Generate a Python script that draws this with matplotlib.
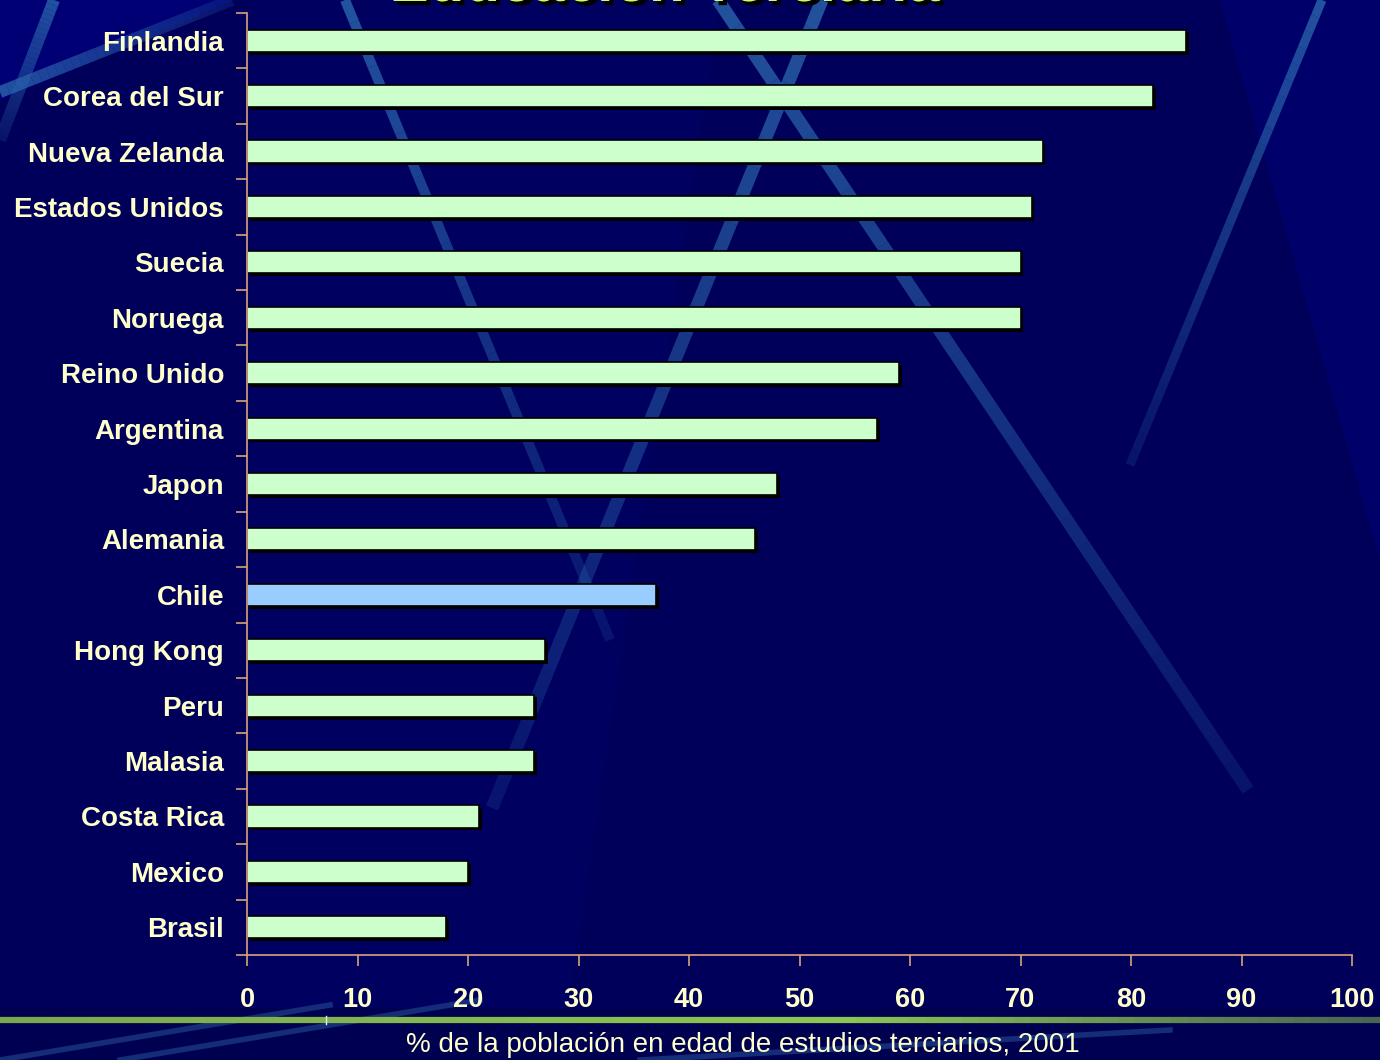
import matplotlib
matplotlib.use("Agg")
import matplotlib.pyplot as plt
import matplotlib.patheffects as pe
from matplotlib.collections import LineCollection
from matplotlib.patches import Polygon
import numpy as np

# data (% of tertiary-age population, 2001)
countries = ["Finlandia", "Corea del Sur", "Nueva Zelanda", "Estados Unidos", "Suecia",
             "Noruega", "Reino Unido", "Argentina", "Japon", "Alemania", "Chile",
             "Hong Kong", "Peru", "Malasia", "Costa Rica", "Mexico", "Brasil"]
values = [85, 82, 72, 71, 70, 70, 59, 57, 48, 46, 37, 27, 26, 26, 21, 20, 18]
highlight = "Chile"
xticks = [0, 10, 20, 30, 40, 50, 60, 70, 80, 90, 100]

W, H = 1380, 1060
BG = "#00006a"
TAN = "#d9a27a"
CREAM = "#ffffcc"
FONT = "Liberation Sans"

fig = plt.figure(figsize=(W / 100, H / 100), dpi=100, facecolor=BG)

# background decoration (pixel coords)
bg = fig.add_axes([0, 0, 1, 1], zorder=0)
bg.set_xlim(0, W)
bg.set_ylim(H, 0)
bg.axis("off")
bg.set_facecolor(BG)
bg.add_patch(Polygon([[0, 0], [1220, 0], [1380, 560], [1380, 1060], [0, 1060]],
                     closed=True, color="#00005a", lw=0))
bg.add_patch(Polygon([[250, 0], [720, 0], [560, 1060], [250, 1060]],
                     closed=True, color="#000060", lw=0))
bg.add_patch(Polygon([[0, 0], [235, 0], [0, 100]], closed=True, color="#000074", lw=0))

# (start, end, width in px)
streaks = [
    ((345, 0), (610, 640), 10),
    ((718, 0), (1248, 790), 13),
    ((822, 0), (492, 808), 13),
    ((1322, 0), (1130, 465), 9),
    ((0, 92), (232, 0), 12),
    ((54, 0), (0, 140), 12),
]
for (x0, y0), (x1, y1), px in streaks:
    n = 30
    xs = np.linspace(x0, x1, n)
    ys = np.linspace(y0, y1, n)
    segs = [[(xs[i], ys[i]), (xs[i + 1], ys[i + 1])] for i in range(n - 1)]
    alphas = np.linspace(0.8, 0.2, n - 1)
    cols = [(0.17, 0.40, 0.68, a) for a in alphas]
    bg.add_collection(LineCollection(segs, colors=cols, linewidths=px * 0.72, capstyle="butt"))

# bottom band and green rule
bg.add_patch(Polygon([[0, 1008], [W, 1008], [W, H], [0, H]], closed=True,
                     color="#000050", lw=0))
for (x0, y0), (x1, y1) in [((0, 1060), (330, 1005)), ((120, 1060), (480, 1000)),
                           ((640, 1060), (1170, 1030))]:
    bg.plot([x0, x1], [y0, y1], color="#1e3f8a", lw=4, alpha=0.7)
gx = np.linspace(0, W, 80)
gsegs = [[(gx[i], 1020), (gx[i + 1], 1020)] for i in range(len(gx) - 1)]
c_left = np.array([0.48, 0.66, 0.30])
c_mid = np.array([0.55, 0.78, 0.32])
c_right = np.array([0.28, 0.38, 0.32])
gcols = []
for x in gx[:-1]:
    t = x / W
    if t < 0.6:
        c = c_left + (c_mid - c_left) * t / 0.6
    else:
        c = c_mid + (c_right - c_mid) * (t - 0.6) / 0.4
    gcols.append(tuple(c))
bg.add_collection(LineCollection(gsegs, colors=gcols, linewidths=4.5))
bg.plot([326, 326], [1016, 1024], color="#ddeeff", lw=1)

# title, cut off at the top edge as in the slide
fig.text(665 / W, 1 - 1 / H, "Educación Terciaria", ha="center", va="baseline",
         fontsize=42, fontweight="bold", family=FONT, color="#ccff66",
         path_effects=[pe.withSimplePatchShadow(offset=(3, -3), shadow_rgbFace="black", alpha=1)])

# main chart
ax = fig.add_axes([247 / W, 1 - 955 / H, (1352 - 247) / W, (955 - 13) / H], zorder=1)
ax.set_facecolor("none")
pos = np.arange(len(countries))
colors = ["#99ccff" if c == highlight else "#ccffcc" for c in countries]
bars = ax.barh(pos, values, height=0.4, color=colors, edgecolor="black", linewidth=1.2)
for b in bars:
    b.set_path_effects([pe.SimplePatchShadow(offset=(2, -2), shadow_rgbFace="black", alpha=1),
                        pe.Normal()])

ax.set_xlim(0, 100)
ax.set_ylim(len(countries) - 0.5, -0.5)
for s in ["top", "right"]:
    ax.spines[s].set_visible(False)
for s in ["left", "bottom"]:
    ax.spines[s].set_color(TAN)
    ax.spines[s].set_linewidth(1.2)

ax.set_xticks(xticks)
ax.set_xticklabels([str(t) for t in xticks], fontsize=19.5, fontweight="bold",
                   family=FONT, color=CREAM)
ax.tick_params(axis="x", colors=TAN, labelcolor=CREAM, length=8, width=1.2, pad=15)

ax.set_yticks(np.arange(len(countries) + 1) - 0.5)
ax.set_yticklabels([])
ax.set_yticks(pos, minor=True)
ax.set_yticklabels(countries, minor=True, fontsize=20, fontweight="bold",
                   family=FONT, color=CREAM)
ax.tick_params(axis="y", which="major", colors=TAN, length=8, width=1.2)
ax.tick_params(axis="y", which="minor", length=0, pad=16.5, labelcolor=CREAM)

fig.text(743 / W, 1 - 1045 / H, "% de la población en edad de estudios terciarios, 2001",
         ha="center", va="center", fontsize=20, family=FONT, color=CREAM)

fig.savefig("out.png", dpi=100, facecolor=BG)
